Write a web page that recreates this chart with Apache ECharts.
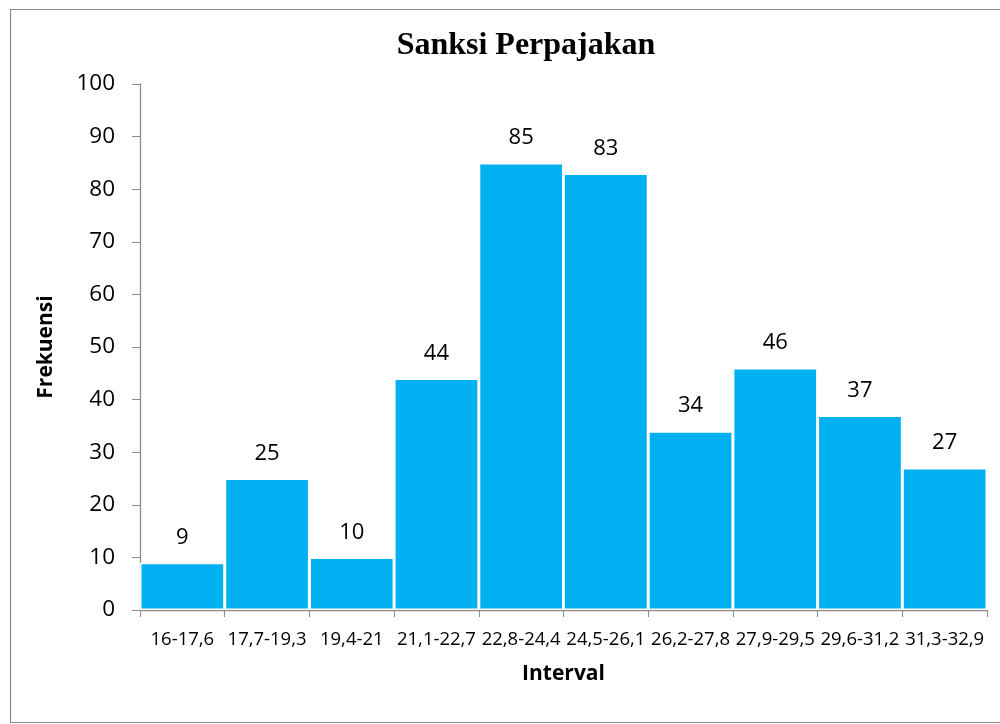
<!DOCTYPE html>
<html><head><meta charset="utf-8">
<script src="https://cdn.jsdelivr.net/npm/echarts@6/dist/echarts.min.js"></script>
<style>html,body{margin:0;padding:0;background:#fff}#c{width:1000px;height:724px}</style>
</head><body><div id="c"></div>
<script>
const categories = ['16-17,6','17,7-19,3','19,4-21','21,1-22,7','22,8-24,4','24,5-26,1','26,2-27,8','27,9-29,5','29,6-31,2','31,3-32,9'];
const frequencies = [9,25,10,44,85,83,34,46,37,27];
const yTicks = {min:0,max:100,interval:10};
const chart = echarts.init(document.getElementById('c'));
chart.setOption({
  animation:false,
  backgroundColor:'#fff',
  graphic:[{type:'rect',shape:{x:10.5,y:9.5,width:1000,height:713},style:{fill:'none',stroke:'#8c8c8c',lineWidth:1.2},silent:true}],
  title:{text:'Sanksi Perpajakan',left:521,textAlign:'center',top:25,textStyle:{fontFamily:'Liberation Serif',fontWeight:'bold',fontSize:32,color:'#000'}},
  grid:{left:140,right:13,top:84,bottom:114,containLabel:false},
  xAxis:{type:'category',data:categories,
    name:'Interval',nameLocation:'middle',nameGap:54,
    nameTextStyle:{fontFamily:'Open Sans',fontWeight:'bold',fontSize:21,color:'#000'},
    axisLine:{lineStyle:{color:'#8c8c8c',width:1.3}},
    axisTick:{show:true,length:7,alignWithLabel:false,lineStyle:{color:'#8c8c8c'}},
    axisLabel:{interval:0,fontFamily:'Open Sans',fontSize:18.5,color:'#000',margin:20}},
  yAxis:{type:'value',min:yTicks.min,max:yTicks.max,interval:yTicks.interval,
    name:'Frekuensi',nameLocation:'middle',nameGap:83,nameRotate:90,
    nameTextStyle:{fontFamily:'Open Sans',fontWeight:'bold',fontSize:21,color:'#000'},
    axisLine:{show:true,lineStyle:{color:'#8c8c8c',width:1.3}},
    axisTick:{show:true,length:8,lineStyle:{color:'#8c8c8c'}},
    splitLine:{show:false},
    axisLabel:{fontFamily:'Open Sans',fontSize:22.5,color:'#000',margin:25}},
  series:[{type:'bar',data:frequencies,barCategoryGap:'0%',
    itemStyle:{color:'#00B0F0',borderColor:'#fff',borderWidth:1.5},
    label:{show:true,position:'top',distance:14,fontFamily:'Open Sans',fontSize:22,color:'#000'}}]
});
</script></body></html>
